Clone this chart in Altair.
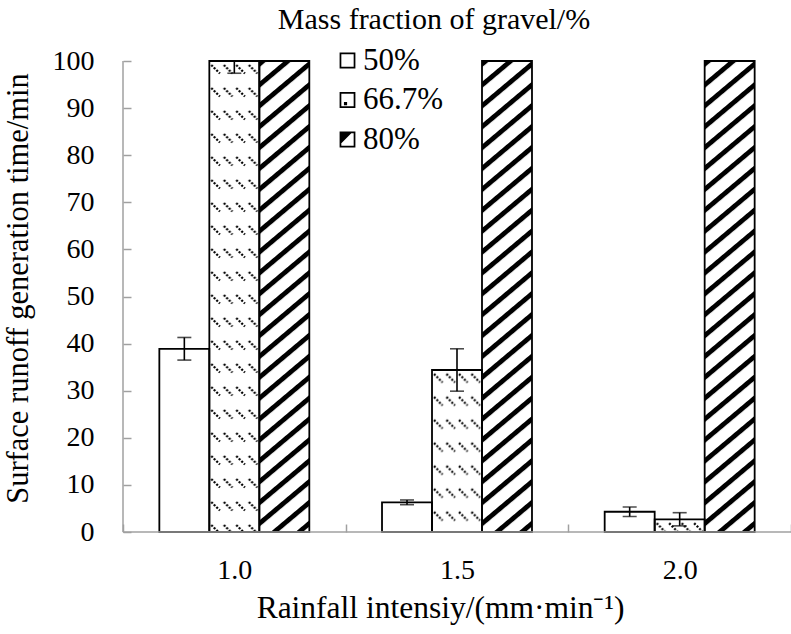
import altair as alt
import pandas as pd
from urllib.parse import quote

# ---------------- data ----------------
intensity = ["1.0", "1.5", "2.0"]
gravel = ["50%", "66.7%", "80%"]
time_50 = [38.9, 6.3, 4.3]
time_667 = [100.0, 34.4, 2.7]
time_80 = [100.0, 100.0, 100.0]
err_50 = [2.4, 0.5, 1.0]
err_667 = [2.6, 4.5, 1.4]
err_80 = [0.0, 0.0, 0.0]
y_ticks = [0, 10, 20, 30, 40, 50, 60, 70, 80, 90, 100]

rows = []
for g, vals, errs in zip(gravel, [time_50, time_667, time_80], [err_50, err_667, err_80]):
    for i, v, e in zip(intensity, vals, errs):
        rows.append({"intensity": i, "gravel": g, "time": v, "err": e,
                     "lo": v - e, "hi": v + e})
df = pd.DataFrame(rows)

# ---------------- styles ----------------
FONT = "Liberation Serif"
GRAY = "#a0a0a0"

svg80 = ('<svg xmlns="http://www.w3.org/2000/svg" width="100%" height="100%">'
         '<defs><pattern id="h" width="16" height="16" patternUnits="userSpaceOnUse" '
         'patternTransform="rotate(-40)"><rect width="16" height="4.8" fill="#000"/></pattern></defs>'
         '<rect width="100%" height="100%" fill="#fff"/>'
         '<rect width="100%" height="100%" fill="url(#h)"/></svg>')
svg667 = ('<svg xmlns="http://www.w3.org/2000/svg" width="100%" height="100%">'
          '<defs><pattern id="d" width="12.5" height="23" patternUnits="userSpaceOnUse">'
          '<line x1="2" y1="4" x2="10.5" y2="12.5" stroke="#000" stroke-width="2.2" '
          'stroke-dasharray="2 1.6"/></pattern></defs>'
          '<rect width="100%" height="100%" fill="#fff"/>'
          '<rect width="100%" height="100%" fill="url(#d)"/></svg>')
URL80 = "data:image/svg+xml;charset=utf-8," + quote(svg80, safe="")
URL667 = "data:image/svg+xml;charset=utf-8," + quote(svg667, safe="")

frame = "M-1,-1H1V1H-1Z M-0.78,-0.78V0.78H0.78V-0.78Z"
shape_paths = [
    frame,
    frame + " M-0.45,0.25H-0.05V0.65H-0.45Z",
    frame + " M-1,-1H0.7L-1,0.7Z",
]

x_enc = alt.X("intensity:N",
              scale=alt.Scale(domain=intensity, paddingInner=0, paddingOuter=0),
              axis=alt.Axis(title="Rainfall intensiy/(mm·min⁻¹)", labelAngle=0,
                            domain=False, ticks=True, tickBand="extent",
                            tickSize=8, tickColor=GRAY, tickWidth=1.5, offset=-8,
                            labelPadding=24, labelFont=FONT, labelFontSize=28,
                            labelColor="black", titleFont=FONT, titleFontSize=31.5,
                            titleFontWeight="normal", titleColor="black",
                            titleX=317, titleY=93, titleBaseline="alphabetic",
                            grid=False))
xo_enc = alt.XOffset("gravel:N",
                     scale=alt.Scale(domain=gravel, paddingInner=0, paddingOuter=0.727))
y_scale = alt.Scale(domain=[0, 100], nice=False)
y_enc = alt.Y("time:Q", scale=y_scale,
              axis=alt.Axis(values=y_ticks, domain=False, tickSize=8, tickColor=GRAY,
                            tickWidth=1.5, offset=-8, labelPadding=29, labelFont=FONT,
                            labelFontSize=28, labelColor="black", grid=False,
                            title="Surface runoff generation time/min", titleFont=FONT,
                            titleFontSize=30.5, titleFontWeight="normal",
                            titleColor="black", titleAngle=-90, titleX=-113,
                            titleY=227, titleAlign="center", titleBaseline="middle"))

base = alt.Chart(df)

img80 = base.transform_filter(alt.datum.gravel == "80%").mark_image(aspect=False).encode(
    x=x_enc, xOffset=xo_enc, y=y_enc, y2=alt.datum(0), url=alt.value(URL80))
img667 = base.transform_filter(alt.datum.gravel == "66.7%").mark_image(aspect=False).encode(
    x=x_enc, xOffset=xo_enc, y=y_enc, y2=alt.datum(0), url=alt.value(URL667))

outline = base.mark_bar(fill="white", fillOpacity=0, stroke="black", strokeWidth=1.8).encode(
    x=x_enc, xOffset=xo_enc, y=y_enc)

errs = base.transform_filter(alt.datum.err > 0)
err_rule = errs.mark_rule(color="black", strokeWidth=1.6, clip=True).encode(
    x=x_enc, xOffset=xo_enc, y=alt.Y("lo:Q", scale=y_scale), y2="hi:Q")
err_lo = errs.mark_tick(color="black", thickness=1.6, size=14, clip=True).encode(
    x=x_enc, xOffset=xo_enc, y=alt.Y("lo:Q", scale=y_scale))
err_hi = errs.mark_tick(color="black", thickness=1.6, size=14, clip=True).encode(
    x=x_enc, xOffset=xo_enc, y=alt.Y("hi:Q", scale=y_scale))

legend_props = dict(orient="none", legendX=209, legendY=-16, title=None,
                    symbolSize=250, labelFont=FONT, labelFontSize=31,
                    labelColor="black", rowPadding=7.5, labelOffset=0, padding=0,
                    symbolStrokeWidth=0, symbolOpacity=1)
# legend-only layer: points placed below the plotted range and clipped away
legend_pts = base.mark_point(filled=True, clip=True).encode(
    x=x_enc, xOffset=xo_enc, y=alt.datum(-50, scale=y_scale),
    fill=alt.Fill("gravel:N", scale=alt.Scale(domain=gravel, range=["black"] * 3),
                  legend=alt.Legend(**legend_props)),
    shape=alt.Shape("gravel:N", scale=alt.Scale(domain=gravel, range=shape_paths),
                    legend=alt.Legend(**legend_props)))

one = alt.Data(values=[{}])
x_line = alt.Chart(one).mark_rule(color=GRAY, strokeWidth=1.5).encode(
    y=alt.datum(0, scale=y_scale))
y_line = alt.Chart(one).mark_rule(color=GRAY, strokeWidth=1.5).encode(
    x=alt.value(0), y=alt.datum(0, scale=y_scale), y2=alt.datum(100))

chart = alt.layer(img667, img80, outline, err_rule, err_lo, err_hi, legend_pts,
                  x_line, y_line).properties(
    width=668, height=471,
    padding={"left": 123, "top": 61, "right": 0, "bottom": 102},
    autosize=alt.AutoSizeParams(type="none"),
    title=alt.Title("Mass fraction of gravel/%", font=FONT, fontSize=30,
                    fontWeight="normal", color="black", anchor="middle", dx=-23,
                    dy=27, offset=13, baseline="alphabetic"),
    background="white",
).configure(
    font=FONT,
    style={"guide-label": {"font": FONT}, "guide-title": {"font": FONT}},
).configure_view(stroke=None).configure_axis(
    labelFont=FONT, titleFont=FONT).configure_legend(labelFont=FONT)

chart.save("out.html", embed_options={"renderer": "svg", "actions": False})
